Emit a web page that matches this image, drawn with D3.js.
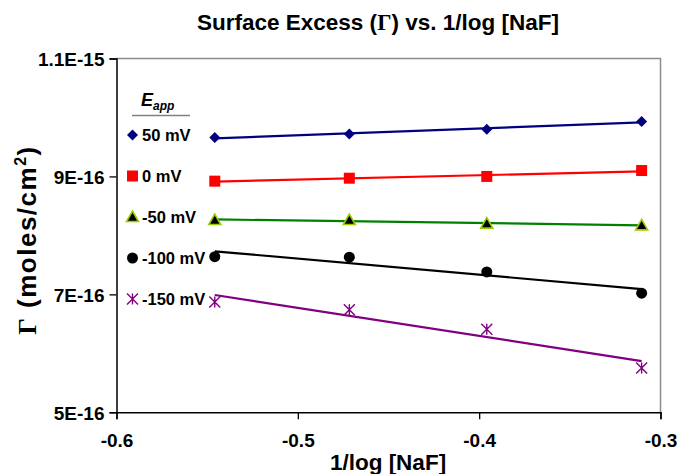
<!DOCTYPE html>
<html>
<head>
<meta charset="utf-8">
<script src="https://cdn.jsdelivr.net/npm/d3@7"></script>
<style>
  html, body { margin: 0; padding: 0; background: #fff; }
  svg { display: block; font-family: "Liberation Sans", Arial, sans-serif; font-weight: bold; }
</style>
</head>
<body>
<svg id="chart" width="677" height="474"></svg>
<script>
// 1/log [NaF] values shared by every series
const xValues = [-0.5458, -0.4716, -0.3958, -0.3104];

// Surface excess (moles/cm^2) for each applied potential
const seriesNames = ["50 mV", "0 mV", "-50 mV", "-100 mV", "-150 mV"];
const gamma50   = [9.66e-16, 9.72e-16, 9.80e-16, 9.93e-16];
const gamma0    = [8.92e-16, 8.97e-16, 9.00e-16, 9.10e-16];
const gammaM50  = [8.26e-16, 8.26e-16, 8.20e-16, 8.17e-16];
const gammaM100 = [7.64e-16, 7.63e-16, 7.38e-16, 7.02e-16];
const gammaM150 = [6.87e-16, 6.74e-16, 6.41e-16, 5.75e-16];

const xTicks = [-0.6, -0.5, -0.4, -0.3];
const yTicks = [5e-16, 7e-16, 9e-16, 1.1e-15];
const yTickLabels = ["5E-16", "7E-16", "9E-16", "1.1E-15"];

const series = [
  { name: seriesNames[0], values: gamma50,   color: "#000080", marker: "diamond" },
  { name: seriesNames[1], values: gamma0,    color: "#FF0000", marker: "square" },
  { name: seriesNames[2], values: gammaM50,  color: "#008000", marker: "triangle" },
  { name: seriesNames[3], values: gammaM100, color: "#000000", marker: "circle" },
  { name: seriesNames[4], values: gammaM150, color: "#800080", marker: "star" }
];

const svg = d3.select("#chart");
const plot = { left: 116.5, right: 660.5, top: 58.5, bottom: 412.3 };

const x = d3.scaleLinear().domain([-0.6, -0.3]).range([plot.left, plot.right]);
const y = d3.scaleLinear().domain([5e-16, 1.1e-15]).range([plot.bottom, plot.top]);

// plot-area frame: grey top/right edges
svg.append("path")
  .attr("d", `M${plot.left},${plot.top}H${plot.right}V${plot.bottom}`)
  .attr("fill", "none").attr("stroke", "#8c8c8c").attr("stroke-width", 1.5);

// axes
const xAxis = d3.axisBottom(x).tickValues(xTicks).tickSize(7).tickFormat(d3.format(".1f"));
const yAxis = d3.axisLeft(y).tickValues(yTicks).tickSize(7)
  .tickFormat((d, i) => yTickLabels[i]);

const gx = svg.append("g").attr("transform", `translate(0,${plot.bottom})`).call(xAxis);
const gy = svg.append("g").attr("transform", `translate(${plot.left},0)`).call(yAxis);

[gx, gy].forEach(g => {
  g.select(".domain").attr("stroke", "#000").attr("stroke-width", 1.5);
  g.selectAll(".tick line").attr("stroke", "#000").attr("stroke-width", 1.3);
  g.selectAll(".tick text")
    .attr("fill", "#000")
    .style("font-family", "'Liberation Sans', Arial, sans-serif")
    .style("font-weight", "bold")
    .style("font-size", "19px");
});
gx.selectAll(".tick text").attr("dy", null).attr("y", 35)
  .text(d => d3.format(".1f")(d).replace("\u2212", "-"));
gy.selectAll(".tick text").attr("x", -12).attr("dy", "0.36em");

// linear trendlines (least squares), spanning the data range
function fit(xs, ys) {
  const mx = d3.mean(xs), my = d3.mean(ys);
  let sxy = 0, sxx = 0;
  xs.forEach((xv, i) => { sxy += (xv - mx) * (ys[i] - my); sxx += (xv - mx) ** 2; });
  const m = sxy / sxx;
  return xv => my + m * (xv - mx);
}

const xExtent = d3.extent(xValues);
series.forEach(s => {
  const f = fit(xValues, s.values);
  svg.append("line")
    .attr("x1", x(xExtent[0])).attr("y1", y(f(xExtent[0])))
    .attr("x2", x(xExtent[1])).attr("y2", y(f(xExtent[1])))
    .attr("stroke", s.color).attr("stroke-width", 2.2);
});

// marker drawing
function drawMarker(g, type, color, cx, cy) {
  if (type === "diamond") {
    g.append("path").attr("d", `M${cx},${cy - 5.5}L${cx + 5.5},${cy}L${cx},${cy + 5.5}L${cx - 5.5},${cy}Z`)
      .attr("fill", color);
  } else if (type === "square") {
    g.append("rect").attr("x", cx - 5.5).attr("y", cy - 5.5).attr("width", 11).attr("height", 11)
      .attr("fill", color);
  } else if (type === "triangle") {
    g.append("path").attr("d", `M${cx},${cy - 6}L${cx + 6},${cy + 4.5}L${cx - 6},${cy + 4.5}Z`)
      .attr("fill", "#000").attr("stroke", "#99CC00").attr("stroke-width", 1.6)
      .attr("stroke-linejoin", "miter");
  } else if (type === "circle") {
    g.append("circle").attr("cx", cx).attr("cy", cy).attr("r", 5.5).attr("fill", color);
  } else if (type === "star") {
    const r = 5.5;
    g.append("path")
      .attr("d", `M${cx - r},${cy - r}L${cx + r},${cy + r}M${cx - r},${cy + r}L${cx + r},${cy - r}M${cx},${cy - r}V${cy + r}`)
      .attr("stroke", color).attr("stroke-width", 1.4).attr("fill", "none");
  }
}

const markers = svg.append("g");
series.forEach(s => {
  s.values.forEach((v, i) => drawMarker(markers, s.marker, s.color, x(xValues[i]), y(v)));
});

// legend
const legend = svg.append("g");
const lh = legend.append("text").attr("x", 141).attr("y", 106)
  .style("font-size", "18px").style("font-style", "italic");
lh.append("tspan").text("E");
lh.append("tspan").text("app").attr("dy", 4).style("font-size", "12px");
legend.append("line").attr("x1", 132).attr("x2", 190).attr("y1", 115.5).attr("y2", 115.5)
  .attr("stroke", "#808080").attr("stroke-width", 1.5);

const legendY = d3.scalePoint().domain(seriesNames).range([135, 299]);
series.forEach(s => {
  const cy = legendY(s.name);
  drawMarker(legend, s.marker, s.color, 132.5, cy);
  legend.append("text").attr("x", 142).attr("y", cy).attr("dy", "0.36em")
    .style("font-size", "16.5px").text(s.name);
});

// titles
svg.append("text").attr("x", 378).attr("y", 30).attr("text-anchor", "middle")
  .style("font-size", "22.5px")
  .html('Surface Excess (<tspan style="font-family:\'Liberation Serif\',serif">Γ</tspan>) vs. 1/log [NaF]');

svg.append("text").attr("x", 388).attr("y", 470).attr("text-anchor", "middle")
  .style("font-size", "22.5px").text("1/log [NaF]");

const yt = svg.append("text").attr("transform", "translate(36,240) rotate(-90)")
  .attr("text-anchor", "middle").style("font-size", "26px").style("letter-spacing", "1.5px");
yt.append("tspan").text("Γ").style("font-family", "'Liberation Serif', serif");
yt.append("tspan").text(" (moles/cm");
yt.append("tspan").text("2").attr("dy", -10).style("font-size", "16px");
yt.append("tspan").text(")").attr("dy", 10);
</script>
</body>
</html>
